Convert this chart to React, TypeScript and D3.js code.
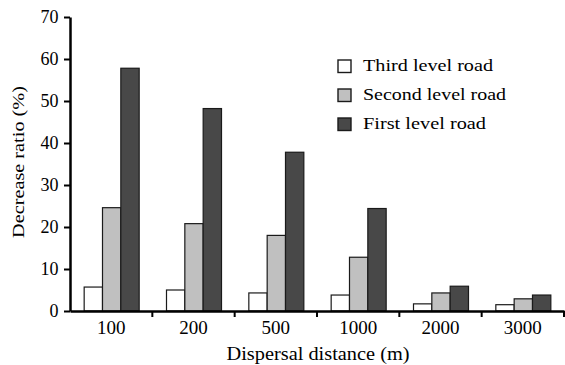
import React, { useEffect, useRef } from 'react';
import * as d3 from 'd3';

const categories = ['100', '200', '500', '1000', '2000', '3000'];
const seriesNames = ['Third level road', 'Second level road', 'First level road'];
const thirdLevel = [5.7, 5.0, 4.3, 3.8, 1.7, 1.5];
const secondLevel = [24.6, 20.8, 18.0, 12.8, 4.3, 2.9];
const firstLevel = [57.8, 48.2, 37.8, 24.4, 5.9, 3.8];
const yTicks = [0, 10, 20, 30, 40, 50, 60, 70];
const colors = ['#ffffff', '#c0c0c0', '#484848'];
// the original typeface runs wider than Liberation Serif, so text is stretched to its widths
const legendWidths = [130, 143, 123];

const font = "'Liberation Serif', 'Times New Roman', Times, 'DejaVu Serif', serif";

export default function App() {
    const svgRef = useRef<SVGSVGElement>(null);

    useEffect(() => {
        const width = 565, height = 365;
        const margin = { top: 17, right: 1, bottom: 54, left: 70 };
        const innerW = width - margin.left - margin.right;
        const innerH = height - margin.top - margin.bottom;

        const svg = d3.select(svgRef.current);
        svg.selectAll('*').remove();

        const g = svg.append('g')
            .attr('transform', `translate(${margin.left},${margin.top})`);

        const x = d3.scaleBand().domain(categories).range([0, innerW]);
        const inner = d3.scaleBand().domain(seriesNames)
            .range([0, 55]);
        const y = d3.scaleLinear().domain([0, 70]).range([innerH, 0]);

        const series = [thirdLevel, secondLevel, firstLevel];
        const rows = categories.map((c, i) => ({ c, vals: series.map(s => s[i]) }));

        const groups = g.append('g').selectAll('g')
            .data(rows)
            .join('g')
            .attr('transform', d => `translate(${(x(d.c) as number) + (x.bandwidth() - 55) / 2 + 0.5},0)`);

        groups.selectAll('rect')
            .data(d => d.vals.map((v, k) => ({ v, k })))
            .join('rect')
            .attr('x', d => inner(seriesNames[d.k]) as number)
            .attr('width', inner.bandwidth())
            .attr('y', d => y(d.v))
            .attr('height', d => innerH - y(d.v))
            .attr('fill', d => colors[d.k])
            .attr('stroke', '#1a1a1a')
            .attr('stroke-width', 1.2);

        // y axis
        const yAxis = g.append('g')
            .call(d3.axisLeft(y).tickValues(yTicks).tickSize(6).tickSizeOuter(0));
        yAxis.attr('font-family', null);
        yAxis.select('.domain').attr('stroke-width', 2.5);
        yAxis.selectAll('.tick line').attr('stroke-width', 2);
        yAxis.selectAll('.tick text')
            .style('font-family', font).attr('font-size', 18).attr('fill', '#000').attr('x', -11.5);

        // x axis
        const xAxis = g.append('g').attr('transform', `translate(0,${innerH})`)
            .call(d3.axisBottom(x).tickSize(0).tickSizeOuter(0));
        xAxis.attr('font-family', null);
        xAxis.select('.domain').attr('stroke-width', 2.5);
        xAxis.selectAll('.tick text')
            .style('font-family', font).attr('font-size', 19).attr('fill', '#000').attr('dy', '1.07em');
        xAxis.selectAll('line.sep')
            .data(categories.slice(1).concat(['end']))
            .join('line')
            .attr('class', 'sep')
            .attr('x1', (d, i) => x.step() * (i + 1))
            .attr('x2', (d, i) => x.step() * (i + 1))
            .attr('y1', 0).attr('y2', 6)
            .attr('stroke', '#000').attr('stroke-width', 2);

        // titles
        svg.append('text')
            .attr('x', 318)
            .attr('y', 360)
            .attr('text-anchor', 'middle')
            .attr('textLength', 183).attr('lengthAdjust', 'spacingAndGlyphs')
            .style('font-family', font).attr('font-size', 18)
            .text('Dispersal distance (m)');

        svg.append('text')
            .attr('transform', `translate(24,162) rotate(-90)`)
            .attr('text-anchor', 'middle')
            .attr('textLength', 152).attr('lengthAdjust', 'spacingAndGlyphs')
            .style('font-family', font).attr('font-size', 17.5)
            .text('Decrease ratio (%)');

        // legend
        const legend = svg.append('g').attr('transform', 'translate(338,60)');
        const items = legend.selectAll('g').data(seriesNames).join('g')
            .attr('transform', (d, i) => `translate(0,${i * 29})`);
        items.append('rect')
            .attr('width', 13).attr('height', 12.5)
            .attr('fill', (d, i) => colors[i])
            .attr('stroke', '#1a1a1a').attr('stroke-width', 1.4);
        items.append('text')
            .attr('x', 25).attr('y', 10.5)
            .attr('textLength', (d, i) => legendWidths[i]).attr('lengthAdjust', 'spacingAndGlyphs')
            .style('font-family', font).attr('font-size', 17.5)
            .text(d => d);
    }, []);

    return (
        <svg ref={svgRef} width={565} height={365}
            style={{ position: 'absolute', left: 0, top: 0, background: '#fff' }} />
    );
}
